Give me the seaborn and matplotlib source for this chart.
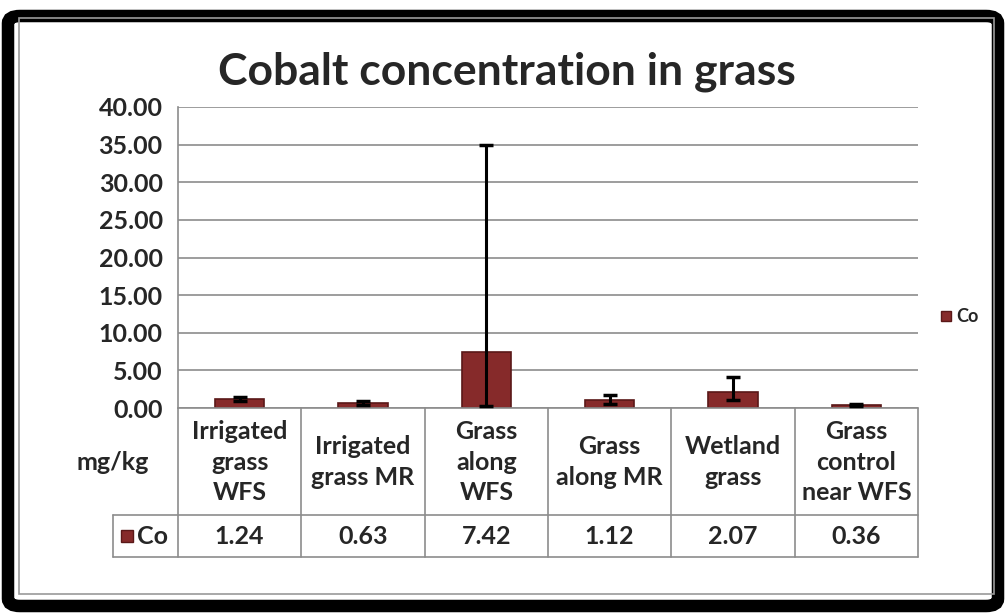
import numpy as np
import pandas as pd
import matplotlib
matplotlib.use("Agg")
import matplotlib.pyplot as plt
import matplotlib.transforms as mtransforms
from matplotlib.patches import FancyBboxPatch, Rectangle
import seaborn as sns

#Data
categories = ['Irrigated\ngrass\nWFS', 'Irrigated\ngrass MR', 'Grass\nalong\nWFS',
              'Grass\nalong MR', 'Wetland\ngrass', 'Grass\ncontrol\nnear WFS']
co_values = [1.24, 0.63, 7.42, 1.12, 2.07, 0.36]
err_low = [0.25, 0.25, 7.10, 0.55, 0.95, 0.15]
err_high = [0.20, 0.25, 27.58, 0.55, 2.10, 0.15]
y_ticks = [0, 5, 10, 15, 20, 25, 30, 35, 40]

sns.set_style("white")
plt.rcParams['font.family'] = ['Lato', 'DejaVu Sans']
plt.rcParams['font.weight'] = 'bold'

W, H = 1006, 614
fig = plt.figure(figsize=(W / 100, H / 100), dpi=100)
fig.patch.set_facecolor('white')

#Frame: thick black rounded border with a thin grey inner line
fig.patches.append(FancyBboxPatch((8 / W, 8 / H), 1 - 16 / W, 1 - 24 / H,
                                  boxstyle="round,pad=0,rounding_size=0.012",
                                  transform=fig.transFigure, fill=False,
                                  edgecolor='black', linewidth=9))
fig.patches.append(Rectangle((19 / W, 20 / H), 1 - 31 / W, 1 - 38 / H,
                             transform=fig.transFigure, fill=False,
                             edgecolor='#9a9a9a', linewidth=1.2))

ax = fig.add_axes([178 / W, 1 - 408 / H, 740 / W, 301 / H])
df = pd.DataFrame({'Sample': categories, 'Co': co_values})
bar_col = '#862a2a'
sns.barplot(data=df, x='Sample', y='Co', color=bar_col, width=0.4,
            edgecolor='#5a1818', linewidth=1.2, saturation=1, ax=ax)
ax.errorbar(np.arange(len(co_values)), co_values, yerr=[err_low, err_high],
            fmt='none', ecolor='black', elinewidth=2.2, capsize=5, capthick=2.5,
            zorder=5)

ax.set_ylim(0, 40)
ax.set_xlim(-0.5, len(categories) - 0.5)
ax.set_yticks(y_ticks)
ax.set_yticklabels([f'{v:.2f}' for v in y_ticks], fontsize=18, fontweight='bold')
ax.yaxis.grid(True, color='#8c8c8c', linewidth=1.2)
ax.set_axisbelow(True)
ax.tick_params(axis='y', length=6, color='#8c8c8c', pad=5)
ax.set_xticks([])
ax.set_xlabel('')
ax.set_ylabel('')
for s in ['top', 'right', 'bottom']:
    ax.spines[s].set_visible(False)
ax.spines['left'].set_color('#8c8c8c')
ax.spines['left'].set_linewidth(1.2)

fig.text(0.504, 1 - 72 / H, 'Cobalt concentration in grass', ha='center', va='center',
         fontsize=32, fontweight='bold')

#Data table under the axis
tr = mtransforms.blended_transform_factory(ax.transData, fig.transFigure)
line_kw = dict(color='#8c8c8c', linewidth=1.2, clip_on=False)
y_axis, y_mid, y_bot = 1 - 408 / H, 1 - 515 / H, 1 - 557 / H
for b in np.arange(-0.5, len(categories), 1.0):
    ax.plot([b, b], [y_axis, y_bot], transform=tr, **line_kw)
ax.plot([-0.5, len(categories) - 0.5], [y_axis, y_axis], transform=tr, **line_kw)
fx = lambda px: px / W
ax.plot([fx(113), fx(918)], [y_mid, y_mid], transform=fig.transFigure, **line_kw)
ax.plot([fx(113), fx(918)], [y_bot, y_bot], transform=fig.transFigure, **line_kw)
ax.plot([fx(113), fx(113)], [y_mid, y_bot], transform=fig.transFigure, **line_kw)

for i, (lab, val) in enumerate(zip(categories, co_values)):
    ax.text(i, 1 - 462 / H, lab, transform=tr, ha='center', va='center',
            fontsize=18, fontweight='bold', linespacing=1.4)
    ax.text(i, 1 - 536 / H, f'{val:.2f}', transform=tr, ha='center', va='center',
            fontsize=18, fontweight='bold')

fig.text(fx(76), 1 - 463 / H, 'mg/kg', ha='left', va='center', fontsize=18, fontweight='bold')
fig.patches.append(Rectangle((fx(121), 1 - 542 / H), 12 / W, 12 / H, transform=fig.transFigure,
                             facecolor=bar_col, edgecolor='#5a1818'))
fig.text(fx(137), 1 - 536 / H, 'Co', ha='left', va='center', fontsize=18, fontweight='bold')

#Legend
fig.patches.append(Rectangle((fx(941), 1 - 321 / H), 10 / W, 10 / H, transform=fig.transFigure,
                             facecolor=bar_col, edgecolor='#5a1818'))
fig.text(fx(956), 1 - 316 / H, 'Co', ha='left', va='center', fontsize=13)

fig.savefig('out.png', dpi=100)
